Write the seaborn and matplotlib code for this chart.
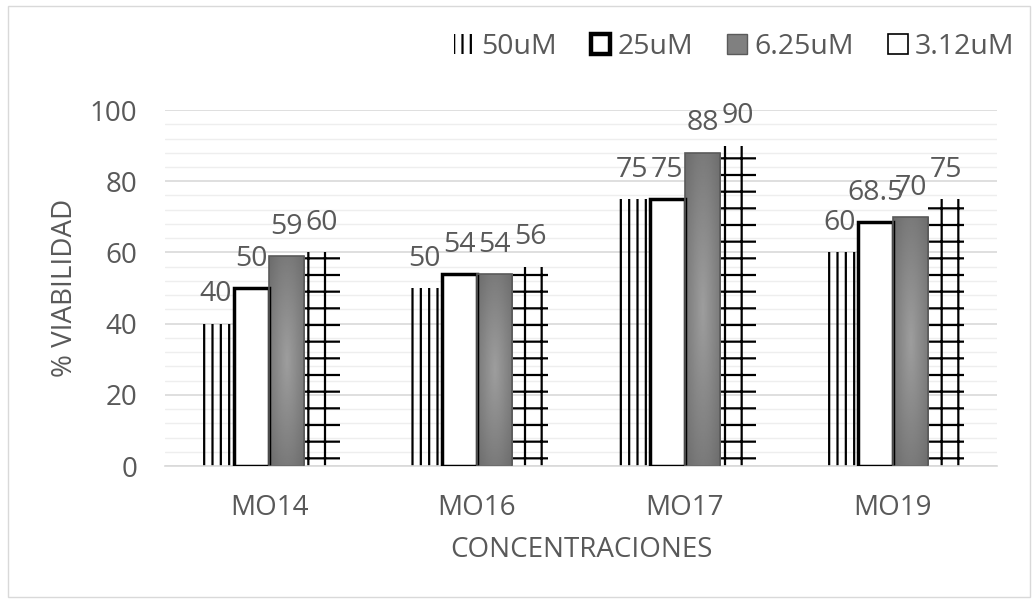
import numpy as np
import pandas as pd
import seaborn as sns
import matplotlib.pyplot as plt
from matplotlib.patches import Patch, Rectangle
from matplotlib.ticker import MultipleLocator

sns.set_style("white")
plt.rcParams['font.family'] = ['Open Sans', 'DejaVu Sans']
plt.rcParams['hatch.linewidth'] = 1.6

##############################################################################

compuestos = ["MO14", "MO16", "MO17", "MO19"]
concentraciones = ["50uM", "25uM", "6.25uM", "3.12uM"]
c50 = [40, 50, 75, 60]
c25 = [50, 54, 75, 68.5]
c625 = [59, 54, 88, 70]
c312 = [60, 56, 90, 75]

gris = '#595959'

##############################################################################

df = pd.DataFrame({
    "compuesto": compuestos * 4,
    "conc": [c for c in concentraciones for _ in compuestos],
    "viabilidad": c50 + c25 + c625 + c312,
})

fig = plt.figure(figsize=(10.34, 6.01), dpi=100)
ax = fig.add_axes([0.1596, 0.2246, 0.8046, 0.5923])

sns.barplot(data=df, x="compuesto", y="viabilidad", hue="conc",
            hue_order=concentraciones, width=0.68, gap=0, saturation=1,
            legend=False, ax=ax)
xlim = ax.get_xlim()

# 50uM -> rayas verticales
for p in ax.containers[0]:
    p.set_facecolor('none')
    p.set_edgecolor('black')
    p.set_hatch('||')
    p.set_linewidth(0)

# 25uM -> blanco con borde grueso
for p in ax.containers[1]:
    p.set_facecolor('white')
    p.set_edgecolor('black')
    p.set_linewidth(2.5)
    p.set_zorder(3)

# 6.25uM -> degradado gris
yy, xx = np.mgrid[0:1:120j, 0:1:40j]
r = np.sqrt(((xx - 0.5) / 0.5) ** 2 + ((yy - 0.5) / 0.5) ** 2) / np.sqrt(2)
grad = 0.62 - 0.2 * r
for p in ax.containers[2]:
    x0, y0 = p.get_x(), p.get_y()
    x1, y1 = x0 + p.get_width(), y0 + p.get_height()
    im = ax.imshow(grad, extent=[x0, x1, y0, y1], cmap='gray', vmin=0, vmax=1,
                   aspect='auto', origin='lower', zorder=2.5, interpolation='bilinear')
    im.set_clip_path(p)
    p.set_facecolor('none')
    p.set_edgecolor('#5a5a5a')
    p.set_linewidth(1.2)
    p.set_zorder(3)

# 3.12uM -> cuadricula
for p in ax.containers[3]:
    p.set_facecolor('none')
    p.set_edgecolor('black')
    p.set_hatch('+')
    p.set_linewidth(0)

for cont in ax.containers:
    ax.bar_label(cont, labels=[f"{b.get_height():g}" for b in cont],
                 padding=11, fontsize=20.5, color=gris)

ax.set_xlim(xlim)
ax.set_ylim(0, 100)
ax.yaxis.set_major_locator(MultipleLocator(20))
ax.yaxis.set_minor_locator(MultipleLocator(4))
ax.set_axisbelow(True)
ax.yaxis.grid(True, which='minor', color='#eeeeee', lw=1)
ax.yaxis.grid(True, which='major', color='#d9d9d9', lw=1.2)
for s in ['left', 'right', 'top']:
    ax.spines[s].set_visible(False)
ax.spines['bottom'].set_color('#d9d9d9')
ax.spines['bottom'].set_linewidth(1.2)

ax.tick_params(axis='both', which='both', length=0, labelsize=20, colors=gris)
ax.tick_params(axis='y', pad=20)
ax.tick_params(axis='x', pad=20)
ax.set_xlabel("CONCENTRACIONES", fontsize=20, color=gris, labelpad=10)
ax.set_ylabel("% VIABILIDAD", fontsize=20, color=gris, labelpad=8)

handles = [
    Patch(facecolor='none', edgecolor='black', hatch='||', lw=0),
    Patch(facecolor='white', edgecolor='black', lw=3.2),
    Patch(facecolor='#808080', edgecolor='#5a5a5a', lw=1),
    Patch(facecolor='white', edgecolor='black', lw=1.2),
]
fig.legend(handles, concentraciones, ncol=4, loc='center',
           bbox_to_anchor=(0.71, 0.922), frameon=False, fontsize=20.5,
           labelcolor=gris, handlelength=0.7, handleheight=0.7,
           handletextpad=0.25, columnspacing=1.2)

fig.patches.append(Rectangle((0.008, 0.006), 0.988, 0.984, transform=fig.transFigure,
                             fill=False, edgecolor='#d9d9d9', lw=1))

fig.savefig("out.png", dpi=100)
